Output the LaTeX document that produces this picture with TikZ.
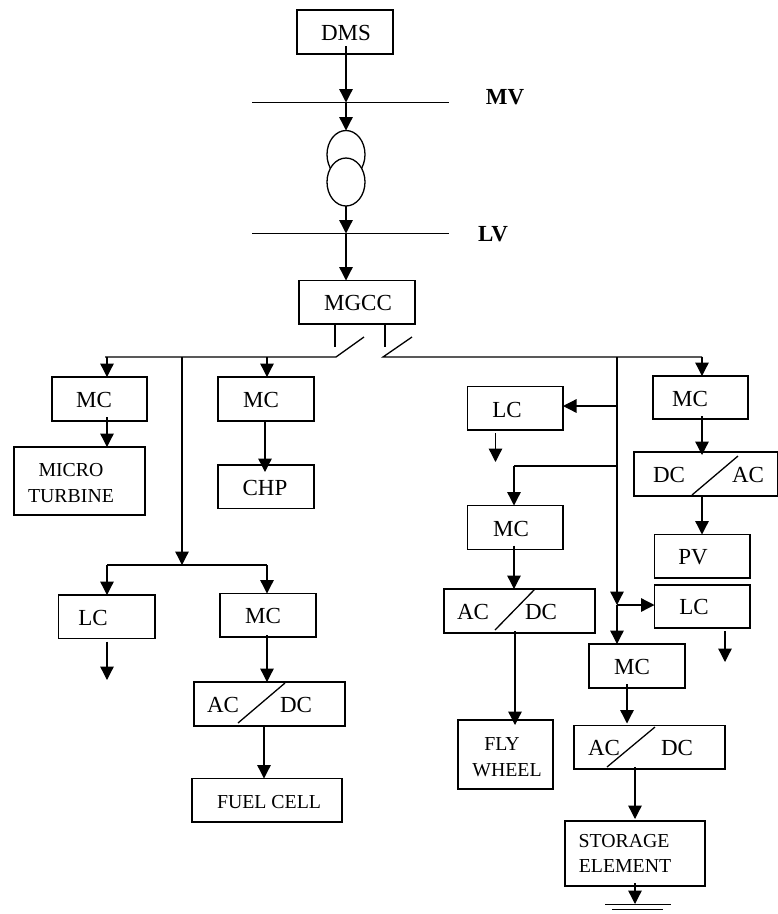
\documentclass[tikz,border=0pt]{standalone}
\usepackage{fontspec}
\setmainfont{Liberation Serif}
\usetikzlibrary{arrows.meta,shapes.geometric,calc}
\tikzset{
  box/.style={draw=black,line width=1.3pt,fill=none,inner sep=0pt,outer sep=0pt},
  wire/.style={draw=black,line width=1.3pt},
  arr/.style={wire,-{Triangle[length=13.5pt,width=13.5pt]}},
  txt/.style={inner sep=0pt,font=\fontsize{23}{23}\selectfont},
  small/.style={inner sep=0pt,font=\fontsize{19.8}{19.8}\selectfont},
  bold/.style={inner sep=0pt,font=\fontsize{23}{23}\selectfont\bfseries},
  coil/.style={ellipse,draw=black,line width=1.3pt,fill=white,minimum width=38pt,minimum height=48pt,inner sep=0pt,outer sep=0pt}
}
\newcommand{\bx}[5]{\node[box,minimum width={#4-#2},minimum height={#5-#3}] (#1) at ({(#2+#4)/2},{(#3+#5)/2}) {};}
\begin{document}
\begin{tikzpicture}[x=1pt,y=-1pt]
\useasboundingbox (0,0) rectangle (778,914);
% boxes
\bx{dms}{297}{10}{393}{54}
\bx{mgcc}{299}{280.5}{415}{324}
\bx{mcA}{52}{377}{147}{421}
\bx{mt}{14}{447}{145}{515}
\bx{mcB}{218}{377}{314}{421}
\bx{chp}{218}{465}{314}{508.5}
\bx{lcA}{58.5}{595}{155}{638.5}
\bx{mcC}{220}{593.5}{316}{637}
\bx{cvA}{194}{682}{345}{726}
\bx{fc}{192}{778.5}{342}{822}
\bx{lcB}{467.5}{386.5}{563}{430}
\bx{mcD}{467.5}{505.5}{563}{549.5}
\bx{cvB}{444}{589}{595}{633}
\bx{fw}{458}{720}{553}{789}
\bx{mcE}{653}{376}{748}{419}
\bx{cvC}{634}{452}{777.5}{496}
\bx{pv}{654.5}{534.5}{750}{578}
\bx{lcC}{654.5}{585}{750}{628}
\bx{mcF}{589}{644}{685}{688}
\bx{cvD}{574}{725.5}{725}{769}
\bx{se}{565}{821}{705}{886}
% texts
\node[txt] (tdms) at (346,33) {DMS};
\node[txt] (tmgcc) at (358,303) {MGCC};
\node[bold] (tmv) at (505,97) {MV};
\node[bold] (tlv) at (493,234) {LV};
\node[txt] (tmcA) at (94,400) {MC};
\node[small] (tmt1) at (71,470) {MICRO};
\node[small] (tmt2) at (71,496) {TURBINE};
\node[txt] (tmcB) at (261,400) {MC};
\node[txt] (tchp) at (265,488) {CHP};
\node[txt] (tlcA) at (93,618) {LC};
\node[txt] (tmcC) at (263,616) {MC};
\node[txt] (tacA) at (223,705) {AC};
\node[txt] (tdcA) at (296,705) {DC};
\node[small] (tfc) at (269,802) {FUEL CELL};
\node[txt] (tlcB) at (507,410) {LC};
\node[txt] (tmcD) at (511,529) {MC};
\node[txt] (tacB) at (473,612) {AC};
\node[txt] (tdcB) at (541,612) {DC};
\node[small] (tfw1) at (502,744) {FLY};
\node[small] (tfw2) at (507,770) {WHEEL};
\node[txt] (tmcE) at (690,399) {MC};
\node[txt] (tdcC) at (669,475) {DC};
\node[txt] (tacC) at (748,475) {AC};
\node[txt] (tpv) at (693,557) {PV};
\node[txt] (tlcC) at (694,607) {LC};
\node[txt] (tmcF) at (632,667) {MC};
\node[txt] (tacD) at (604,748) {AC};
\node[txt] (tdcD) at (677,748) {DC};
\node[small] (tse1) at (624,841) {STORAGE};
\node[small] (tse2) at (625,866) {ELEMENT};
% transformer
\node[coil] (xfa) at (346,154.5) {};
\node[coil] (xfb) at (346,182) {};
% named points
\coordinate (mvL) at (252,102.5); \coordinate (mvR) at (449,102.5); \coordinate (mvJ) at (346,102.5);
\coordinate (lvL) at (252,233.5); \coordinate (lvR) at (449,233.5); \coordinate (lvJ) at (346,233.5);
\coordinate (stA) at (335,347); \coordinate (stB) at (385,347);
\coordinate (bA) at (105,357); \coordinate (sAa) at (336,357); \coordinate (sAb) at (364,337);
\coordinate (sBb) at (412,337); \coordinate (sBa) at (383,357); \coordinate (bB) at (702,357);
\coordinate (jA) at (107,357); \coordinate (jB) at (182,357); \coordinate (jC) at (267,357);
\coordinate (jD) at (182,565); \coordinate (jDa) at (107,565); \coordinate (jDb) at (267,565);
\coordinate (tr) at (617,357); \coordinate (trA) at (617,406); \coordinate (trB) at (617,466);
\coordinate (trBa) at (514,466); \coordinate (trC) at (617,605);
\coordinate (lcAe) at (107,680); \coordinate (lcBe) at (495.5,462); \coordinate (lcCe) at (725,662);
\coordinate (gndA) at (605,904.5); \coordinate (gndB) at (671,904.5);
\coordinate (gndC) at (612,909.5); \coordinate (gndD) at (663,909.5);
\coordinate (gndJ) at (635,904);
\coordinate (xA) at (264,0); \coordinate (xB) at (515,0); \coordinate (xC) at (627,0); \coordinate (xD) at (635,0); \coordinate (xE) at (265,0);
% buses
\draw[wire] (mvL) -- (mvR);
\draw[wire] (lvL) -- (lvR);
\draw[arr] ([yshift=8pt]dms.south -| mvJ) -- (mvJ);
\draw[arr] (mvJ) -- (xfa.north);
\draw[arr] (xfb.south) -- (lvJ);
\draw[arr] (lvJ) -- (mgcc.north -| lvJ);
% switch
\draw[wire] (mgcc.south -| stA) -- (stA);
\draw[wire] (mgcc.south -| stB) -- (stB);
\draw[wire] (bA) -- (sAa) -- (sAb);
\draw[wire] (sBb) -- (sBa) -- (bB);
% left side
\draw[arr] (jA) -- (mcA.north -| jA);
\draw[arr] ([yshift=4pt]mcA.south -| jA) -- (mt.north -| jA);
\draw[arr] (jC) -- (mcB.north -| jC);
\draw[arr] (mcB.south -| xE) -- ([yshift=-7pt]chp.north -| xE);
\draw[arr] (jB) -- (jD);
\draw[wire] (jDa) -- (jDb);
\draw[arr] (jDa) -- (lcA.north -| jDa);
\draw[arr] (jDb) -- (mcC.north -| jDb);
\draw[arr] ([yshift=-3pt]lcA.south -| lcAe) -- (lcAe);
\draw[arr] ([yshift=2pt]mcC.south -| jDb) -- (cvA.north -| jDb);
\draw[arr] (cvA.south -| xA) -- (fc.north -| xA);
% converter slashes
\coordinate (saA) at (238,723); \coordinate (saB) at (285,683);
\draw[wire] (saA) -- (saB);
\coordinate (sbA) at (495,630); \coordinate (sbB) at (535,589);
\draw[wire] (sbA) -- (sbB);
\coordinate (scA) at (692,495); \coordinate (scB) at (738,456);
\draw[wire] (scA) -- (scB);
\coordinate (sdA) at (607,767); \coordinate (sdB) at (655,727);
\draw[wire] (sdA) -- (sdB);
% right side
\draw[arr] (tr) -- (trC);
\draw[arr] (trC) -- (mcF.north -| trC);
\draw[arr] (trC) -- (lcC.west |- trC);
\draw[arr] (trA) -- (lcB.east |- trA);
\draw[arr] ([yshift=-3pt]lcB.south -| lcBe) -- (lcBe);
\draw[wire] (trB) -- (trBa);
\draw[arr] (trBa) -- (mcD.north -| trBa);
\draw[arr] ([yshift=4pt]mcD.south -| trBa) -- (cvB.north -| trBa);
\draw[arr] ([yshift=2pt]cvB.south -| xB) -- ([yshift=-5pt]fw.north -| xB);
\draw[arr] (bB) -- (mcE.north -| bB);
\draw[arr] ([yshift=3pt]mcE.south -| bB) -- ([yshift=-3pt]cvC.north -| bB);
\draw[arr] (cvC.south -| bB) -- (pv.north -| bB);
\draw[arr] ([yshift=-3pt]lcC.south -| lcCe) -- (lcCe);
\draw[arr] ([yshift=4pt]mcF.south -| xC) -- ([yshift=2pt]cvD.north -| xC);
\draw[arr] ([yshift=2pt]cvD.south -| xD) -- ([yshift=2pt]se.north -| xD);
\draw[arr] ([yshift=3pt]se.south -| xD) -- (gndJ);
\draw[wire] (gndA) -- (gndB);
\draw[wire] (gndC) -- (gndD);
\end{tikzpicture}
\end{document}
